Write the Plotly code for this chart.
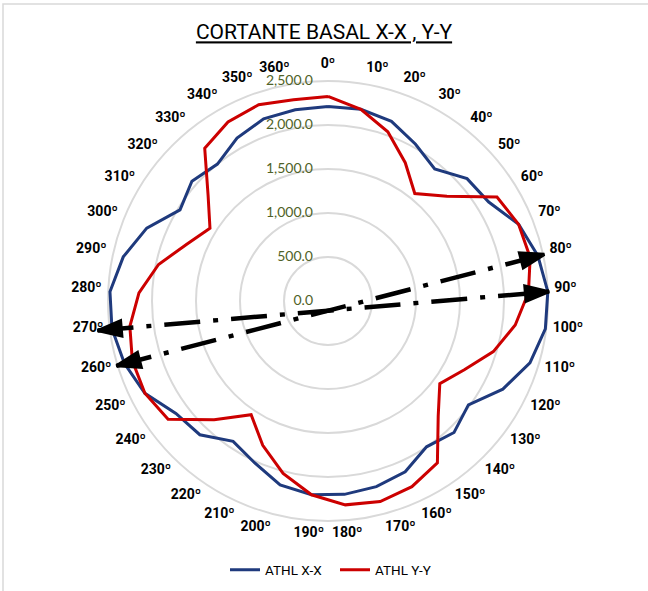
import math
import plotly.graph_objects as go

# ---------------- data ----------------
angles_deg = list(range(0, 361, 10))
categories = [f"{a}º" for a in angles_deg]

athl_xx = [2210, 2210, 2165, 2040, 1930, 2105, 2145, 2335, 2440, 2500,
           2490, 2400, 2225, 1985, 2070, 2000, 2130, 2180, 2205, 2210,
           2160, 2020, 1925, 2105, 2150, 2330, 2420, 2475, 2480, 2380,
           2220, 1975, 2060, 2000, 2120, 2195, 2205]

athl_yy = [2325, 2210, 2040, 1800, 1570, 1800, 2255, 2335, 2350, 2280,
           2145, 1965, 1735, 1580, 1810, 2220, 2315, 2355, 2325, 2210,
           2025, 1800, 1560, 1870, 2260, 2330, 2325, 2270, 2150, 1970,
           1730, 1575, 1815, 2230, 2330, 2365, 2320]

radial_ticks = [0, 500, 1000, 1500, 2000, 2500]
radial_tick_labels = ["0.0", "500.0", "1,000.0", "1,500.0", "2,000.0", "2,500.0"]

arrow_pairs = [("260º", "80º"), ("270º", "90º")]
arrow_r = [(2515, 2515), (2640, 2515)]

# ---------------- geometry / style ----------------
W, H = 648, 591
cx, cy = 328, 301           # centre of the radar, px from top-left
px_per_unit = 220 / 2500    # 2,500 ring has a 220 px radius
r_max = 2750                # plotting range (room for the arrow heads)
R_plot = r_max * px_per_unit
R_lab = 226                 # radius used to place the angular labels
label_shift = 4             # angular labels sit a bit higher (Excel style)
BLUE, RED, GRID, GREEN = "#1F3A7D", "#CC0000", "#D9D9D9", "#4F6228"

fig = go.Figure()

for name, vals, col in [("ATHL X-X", athl_xx, BLUE), ("ATHL Y-Y", athl_yy, RED)]:
    fig.add_trace(go.Scatterpolar(
        r=vals + [vals[0]], theta=categories + [categories[0]],
        mode="lines", name=name, line=dict(color=col, width=3),
        subplot="polar",
    ))

n = len(categories)


def cat_angle(label):
    return math.radians(categories.index(label) * 360.0 / n)


for (a_lab, b_lab), (ra, rb) in zip(arrow_pairs, arrow_r):
    ta, tb = cat_angle(a_lab), cat_angle(b_lab)
    ax_, ay_ = ra * math.sin(ta), ra * math.cos(ta)
    bx_, by_ = rb * math.sin(tb), rb * math.cos(tb)
    ang_b = math.degrees(math.atan2(bx_ - ax_, by_ - ay_))
    ang_a = ang_b + 180
    fig.add_trace(go.Scatterpolar(
        r=[ra, rb], theta=[a_lab, b_lab], mode="lines+markers",
        line=dict(color="black", width=4.5, dash="36px,13px,5px,13px"),
        marker=dict(symbol="arrow", size=25, angle=[ang_a, ang_b], color="black",
                    line=dict(color="black", width=3)),
        cliponaxis=False, showlegend=False, hoverinfo="skip", subplot="polar",
    ))

# radial value labels (right-aligned, left of the 0º spoke)
fig.add_trace(go.Scatterpolar(
    r=radial_ticks, theta=[categories[0]] * len(radial_ticks),
    mode="markers+text", text=radial_tick_labels, textposition="middle left",
    textfont=dict(family="Lato", size=14, color=GREEN),
    marker=dict(size=22.4, opacity=0), cliponaxis=False,
    showlegend=False, hoverinfo="skip", subplot="polar",
))

# invisible trace that carries the angular category labels
fig.add_trace(go.Scatterpolar(
    r=[0] * n, theta=categories, mode="markers", marker=dict(opacity=0, size=1),
    showlegend=False, hoverinfo="skip", subplot="polar2",
))

fig.update_layout(
    width=W, height=H,
    margin=dict(l=0, r=0, t=0, b=0),
    paper_bgcolor="white",
    title=dict(text="<u>CORTANTE BASAL X-X , Y-Y</u>", x=0.5, xanchor="center",
               y=1 - 32 / H, yanchor="middle",
               font=dict(family="Roboto", size=21, color="black")),
    polar=dict(
        domain=dict(x=[(cx - R_plot) / W, (cx + R_plot) / W],
                    y=[(H - cy - R_plot) / H, (H - cy + R_plot) / H]),
        bgcolor="rgba(0,0,0,0)",
        angularaxis=dict(type="category", categoryarray=categories,
                         rotation=90, direction="clockwise",
                         showgrid=False, showline=False, showticklabels=False, ticks=""),
        radialaxis=dict(range=[0, r_max], tickvals=radial_ticks, showticklabels=False,
                        angle=90, showline=False, ticks="",
                        gridcolor=GRID, gridwidth=1.5),
    ),
    polar2=dict(
        domain=dict(x=[(cx - R_lab) / W, (cx + R_lab) / W],
                    y=[(H - cy + label_shift - R_lab) / H, (H - cy + label_shift + R_lab) / H]),
        bgcolor="rgba(0,0,0,0)",
        angularaxis=dict(type="category", categoryarray=categories,
                         rotation=90, direction="clockwise",
                         showgrid=False, showline=False, ticks="",
                         tickfont=dict(family="Roboto", size=14, color="black", weight="bold")),
        radialaxis=dict(visible=False, range=[0, 2500]),
    ),
    legend=dict(orientation="h", x=335 / W, xanchor="center", y=21 / H, yanchor="middle",
                entrywidth=65, entrywidthmode="pixels",
                font=dict(family="Roboto", size=13.5, color="black")),
    shapes=[dict(type="rect", xref="paper", yref="paper", x0=3 / W, x1=1.02, y0=-0.02, y1=1 - 4 / H,
                 line=dict(color=GRID, width=1.5), fillcolor="rgba(0,0,0,0)", layer="below")],
)

fig.write_html("out.html", config={"displayModeBar": False},
               post_script="document.body.style.margin='0px';")
